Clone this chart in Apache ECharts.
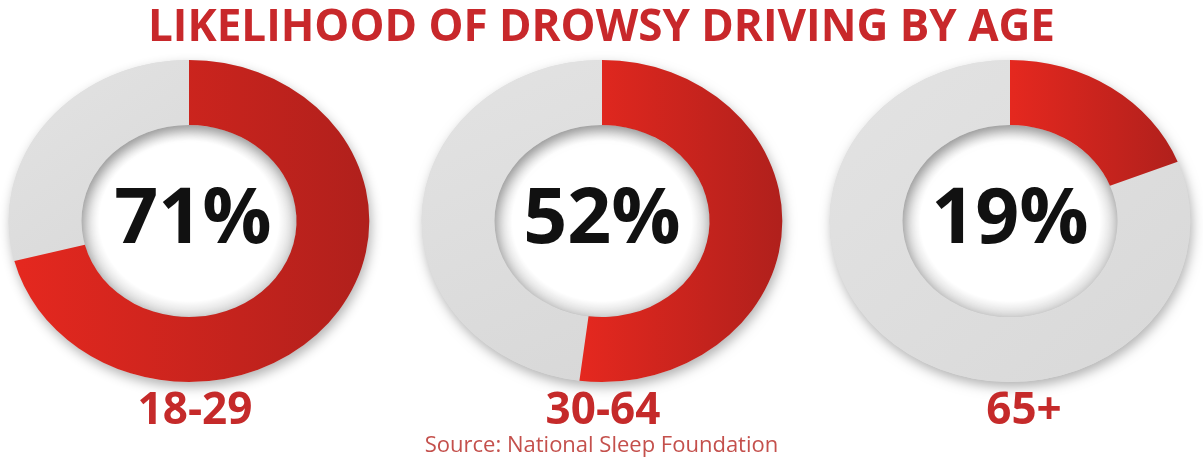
<!DOCTYPE html>
<html>
<head>
<meta charset="utf-8">
<script src="https://cdn.jsdelivr.net/npm/echarts@6/dist/echarts.min.js"></script>
<style>
html,body{margin:0;padding:0;background:#fff;}
#chart{width:1203px;height:461px;}
</style>
</head>
<body>
<div id="chart"></div>
<script>
// ---- data ----
const ageGroups = ['18-29', '30-64', '65+'];
const drowsyPercent = [71, 52, 19];
const titleText = 'LIKELIHOOD OF DROWSY DRIVING BY AGE';
const sourceText = 'Source: National Sleep Foundation';

// ---- layout ----
const donutX = [189, 602, 1010];
const labelX = [195, 603, 1024];
const pctX = [193, 602, 1010];
const donutY = 221;
const labelY = 411;
const R = 161, R0 = 96, SX = 1.12;

const chart = echarts.init(document.getElementById('chart'), null, {renderer: 'canvas'});

function renderItem(params, api) {
  const i = params.dataIndex;
  const v = api.value(1);
  const start = -Math.PI / 2;
  const end = start + 2 * Math.PI * v / 100;
  const full = start + 2 * Math.PI;
  const redGrad = new echarts.graphic.LinearGradient(0, 0, 1, 0, [
    {offset: 0, color: '#e5281f'},
    {offset: 1, color: '#b0201c'}
  ]);
  const grayGrad = new echarts.graphic.LinearGradient(0, 0, 1, 1, [
    {offset: 0, color: '#e3e3e3'},
    {offset: 1, color: '#d8d8d8'}
  ]);
  const holeShade = new echarts.graphic.RadialGradient(0.5, 0.5, 0.5, [
    {offset: 0, color: 'rgba(0,0,0,0)'},
    {offset: 1 - 16 / R0, color: 'rgba(0,0,0,0)'},
    {offset: 1, color: 'rgba(0,0,0,0.15)'}
  ]);
  return {
    type: 'group',
    children: [
      {
        type: 'group',
        x: donutX[i], y: donutY, scaleX: SX, scaleY: 1,
        children: [
          {type: 'sector', shape: {cx: 0, cy: 0, r: R, r0: R0, startAngle: 0, endAngle: Math.PI * 2},
           style: {fill: '#dcdcdc', shadowBlur: 12, shadowOffsetX: 2, shadowOffsetY: 5, shadowColor: 'rgba(0,0,0,0.3)'}},
          {type: 'sector', shape: {cx: 0, cy: 0, r: R, r0: R0, startAngle: end, endAngle: full, clockwise: true},
           style: {fill: grayGrad}},
          {type: 'sector', shape: {cx: 0, cy: 0, r: R, r0: R0, startAngle: start, endAngle: end, clockwise: true},
           style: {fill: redGrad}},
          {type: 'sector', shape: {cx: 0, cy: 0, r: R0, r0: 0, startAngle: 0, endAngle: Math.PI * 2},
           style: {fill: holeShade}}
        ]
      },
      {
        type: 'text', x: pctX[i], y: donutY,
        style: {text: v + '%', fill: '#111111', font: 'bold 77px "Open Sans"',
                align: 'center', verticalAlign: 'middle', textAlign: 'center', textVerticalAlign: 'middle'}
      },
      {
        type: 'text', x: labelX[i], y: labelY,
        style: {text: ageGroups[i], fill: '#c52a2a', font: 'bold 44px "Open Sans"',
                align: 'center', verticalAlign: 'middle', textAlign: 'center', textVerticalAlign: 'middle'}
      }
    ]
  };
}

const option = {
  backgroundColor: '#ffffff',
  animation: false,
  title: [
    {text: titleText, left: 'center', top: 1,
     textStyle: {fontFamily: 'Open Sans', fontWeight: 'bold', fontSize: 44, color: '#c8282b'}},
    {text: sourceText, left: 'center', top: 430,
     textStyle: {fontFamily: 'Open Sans', fontWeight: 'normal', fontSize: 22, color: '#c4504c'}}
  ],
  series: [{
    type: 'custom',
    coordinateSystem: 'none',
    silent: true,
    renderItem: renderItem,
    data: ageGroups.map((g, i) => [i, drowsyPercent[i]])
  }]
};
chart.setOption(option);
</script>
</body>
</html>
